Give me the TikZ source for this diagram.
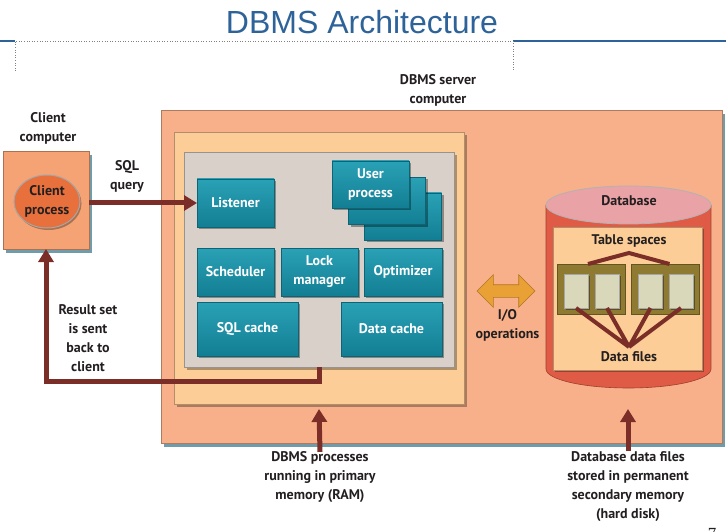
\documentclass[tikz,border=0pt]{standalone}
\usepackage{fontspec}
\setmainfont{PT Sans}
\newfontfamily\titlefont{Liberation Sans}
\newfontfamily\numfont{Liberation Serif}
\usetikzlibrary{shadows,arrows.meta,shapes.arrows,shapes.geometric,calc}
\definecolor{titleblue}{HTML}{2E6399}
\definecolor{server}{HTML}{F7B089}
\definecolor{lightor}{HTML}{FCCD96}
\definecolor{grayin}{HTML}{DAD0CA}
\definecolor{tealtop}{HTML}{2AA1B6}
\definecolor{tealbot}{HTML}{127E93}
\definecolor{tealdark}{HTML}{0D6475}
\definecolor{arrowred}{HTML}{7A2E27}
\definecolor{clientor}{HTML}{F5A374}
\definecolor{ellor}{HTML}{E8703C}
\definecolor{dbred}{HTML}{DF5B45}
\definecolor{dbpink}{HTML}{E9A2A6}
\definecolor{olive}{HTML}{8E7A30}
\definecolor{filebox}{HTML}{D9D8BA}
\definecolor{gold}{HTML}{E9A034}
\definecolor{shadowteal}{HTML}{6F9CA8}
\definecolor{txt}{HTML}{231F20}
\begin{document}
\begin{tikzpicture}[x=1pt,y=-1pt,
  every node/.style={inner sep=0pt, outer sep=0pt, font=\fontsize{14}{19}\selectfont\bfseries, text=txt, align=center},
  panel/.style={rectangle, draw=#1!70!black, line width=0.6pt},
  tbox/.style={rectangle, top color=tealtop, bottom color=tealbot, draw=tealdark, line width=0.8pt, text=white,
    drop shadow={shadow xshift=2pt, shadow yshift=-2pt, fill=black, opacity=0.35}},
  bigarrow/.style={draw=arrowred, line width=5pt, -{Triangle[length=13pt,width=15pt]}},
  thinline/.style={draw=arrowred, line width=4pt},
]
\useasboundingbox (0,0) rectangle (726,532);

% title
\node[font=\titlefont\fontsize{32}{38}\selectfont, text=titleblue] (title) at (362,22) {DBMS Architecture};
\draw[titleblue, line width=1.2pt] (0,41) -- (15,41) (513,41) -- (726,41);
\draw[gray, dotted, line width=0.6pt] (15,71) -- (15,41) -- (513,41) -- (513,71);

% labels
\node (srvlabel) at (438,90) {DBMS server\\computer};
\node (clientlabel) at (48,128.5) {Client\\computer};

% server boxes
\node[panel=server, fill=server, minimum width=561pt, minimum height=333pt,
  drop shadow={shadow xshift=3pt, shadow yshift=-4pt, fill=shadowteal, opacity=1}] (server) at (441.5,276.5) {};
\node[panel=lightor, fill=lightor, minimum width=290pt, minimum height=272pt,
  drop shadow={shadow xshift=3pt, shadow yshift=-3pt, fill=black, opacity=0.3}] (light) at (319,268) {};
\node[panel=grayin, fill=grayin, minimum width=270pt, minimum height=215pt,
  drop shadow={shadow xshift=3pt, shadow yshift=-3pt, fill=black, opacity=0.3}] (gray) at (319,259.5) {};

% teal boxes
\node[tbox, minimum width=77pt, minimum height=48pt] (listener) at (235.5,203) {Listener};
\node[tbox, minimum width=77pt, minimum height=47pt] (up3) at (403,216.5) {};
\node[tbox, minimum width=77pt, minimum height=47pt] (up2) at (387,201) {};
\node[tbox, minimum width=77pt, minimum height=47pt] (up1) at (370.5,184.5) {User\\process};
\node[tbox, minimum width=77pt, minimum height=48pt] (sched) at (235.5,272) {Scheduler};
\node[tbox, minimum width=77pt, minimum height=48pt] (lock) at (319.5,272) {Lock\\manager};
\node[tbox, minimum width=78pt, minimum height=48pt] (optim) at (403,272) {Optimizer};
\node[tbox, minimum width=101pt, minimum height=54pt] (sqlcache) at (247.5,329) {SQL cache};
\node[tbox, minimum width=101pt, minimum height=54pt] (datacache) at (391.5,329) {Data cache};

% client
\node[rectangle, fill=clientor, draw=clientor!70!black, line width=0.6pt, minimum width=86pt, minimum height=98pt,
  drop shadow={shadow xshift=3pt, shadow yshift=-4pt, fill=shadowteal, opacity=1}] (clientbox) at (46,200) {};
\node[ellipse, fill=ellor, draw=gray!70, line width=1pt, minimum width=66pt, minimum height=53pt,
  drop shadow={shadow xshift=1.5pt, shadow yshift=-2pt, fill=black, opacity=0.3}] (clientproc) at (47,201.5) {Client\\process};
\node (sqlq) at (127,176) {SQL\\query};
\node (result) at (88,338) {Result set\\is sent\\back to\\client};

% arrows client/server
\coordinate (rcorner) at (319,381);
\draw[bigarrow] (clientbox.east |- listener.west) -- (listener.west);
\draw[bigarrow] (gray.south) -- (rcorner) -| (clientbox.south);

% database cylinder
\fill[dbred] (546,205) rectangle (711,369);
\fill[dbred] (628.5,369) ellipse [x radius=82.5pt, y radius=19pt];
\draw[dbred!70!black, line width=0.6pt] (546,205) -- (546,369) arc[start angle=180, end angle=360, x radius=82.5pt, y radius=19pt] -- (711,205);
\filldraw[fill=dbpink, draw=gray!60, line width=0.8pt] (628.5,205) ellipse [x radius=82.5pt, y radius=19pt];
\node (dblabel) at (629,201) {Database};
\node[rectangle, fill=lightor, draw=lightor!70!black, line width=0.6pt, minimum width=149pt, minimum height=143pt,
  drop shadow={shadow xshift=2pt, shadow yshift=-2pt, fill=black, opacity=0.3}] (dbinner) at (627.5,298.5) {};
\node (tslabel) at (629,241) {Table spaces};
\node (dflabel) at (629,357) {Data files};
\coordinate (tsapex) at (629,253);
\coordinate (dfapex) at (629,347);

\node[rectangle, fill=olive, draw=olive!70!black, line width=0.6pt, minimum width=68pt, minimum height=50pt] (tsL) at (591,289) {};
\node[rectangle, fill=olive, draw=olive!70!black, line width=0.6pt, minimum width=68pt, minimum height=50pt] (tsR) at (665.5,289) {};
\draw[thinline] ($(tsL.north)+(-3,0)$) -- (tsapex) -- ($(tsR.north)+(4,0)$);
\foreach \n/\x in {f1/576, f2/607, f3/650.5, f4/681}{
  \node[rectangle, fill=filebox, draw=gray!70, line width=0.8pt, minimum width=24pt, minimum height=34pt,
    drop shadow={shadow xshift=1.5pt, shadow yshift=-1.5pt, fill=black, opacity=0.35}] (\n) at (\x,291) {};
}
\draw[thinline] (f1.south) -- (dfapex) (f2.south) -- (dfapex) (f3.south) -- (dfapex) (f4.south) -- (dfapex);

% I/O arrow
\node[double arrow, fill=gold, draw=gold!75!black, line width=0.6pt, minimum height=58pt, minimum width=32pt,
  inner ysep=6pt, inner xsep=2pt, double arrow head extend=10pt] (io) at (506,291) {};
\node (iolabel) at (507.5,325.5) {I/O\\operations};

% bottom labels and arrows
\node (ramtext) at (320,477.5) {DBMS processes\\running in primary\\memory (RAM)};
\node (disktext) at (628,486.5) {Database data files\\stored in permanent\\secondary memory\\(hard disk)};
\coordinate (ramtip) at (319,409);
\coordinate (dbtip) at (628,409);
\draw[bigarrow] (ramtext.north) -- (ramtip);
\draw[bigarrow] (disktext.north) -- (dbtip);

\node[font=\numfont\fontsize{17}{20}\selectfont, anchor=north] (pg) at (712,528) {7};
\end{tikzpicture}
\end{document}
